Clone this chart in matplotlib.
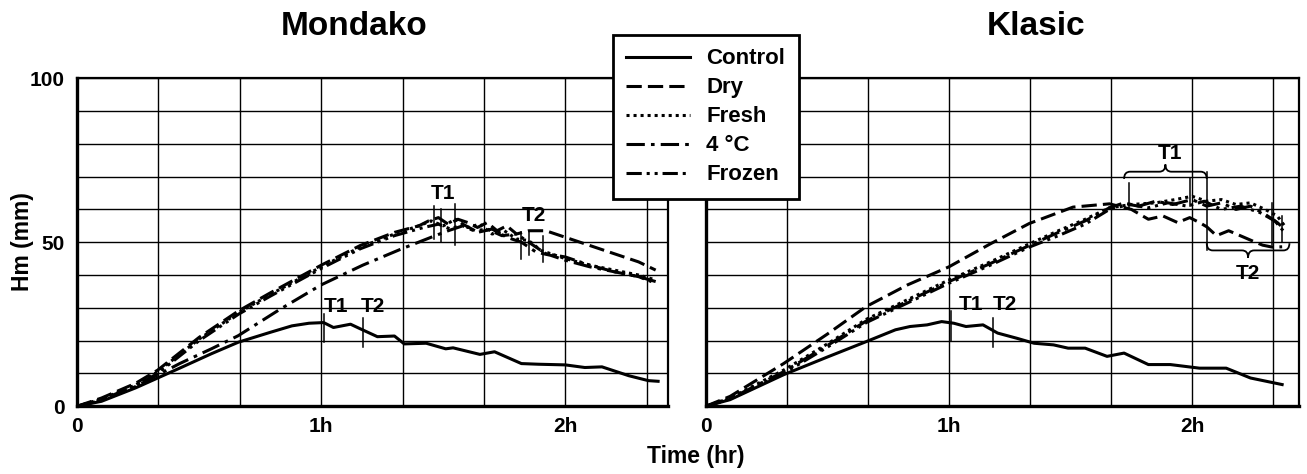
import matplotlib
matplotlib.use("Agg")
import matplotlib.pyplot as plt
import numpy as np
from matplotlib.path import Path
from matplotlib.patches import PathPatch

plt.rcParams['font.family'] = ['Liberation Sans', 'DejaVu Sans']
plt.rcParams['font.weight'] = 'bold'

series = ["Control", "Dry", "Fresh", "4 °C", "Frozen"]
styles = ["-", (0, (5, 2)), (0, (1, 1.3)), (0, (6, 2, 1.2, 2)), (0, (5, 1.6, 1, 1.6, 1, 1.6))]

# ---- Mondako (left) ----
m_ctrl_t = [0, 0.1, 0.24, 0.42, 0.55, 0.66, 0.79, 0.88, 0.95, 1.01, 1.05, 1.12, 1.16, 1.23, 1.30, 1.34,
            1.43, 1.51, 1.54, 1.65, 1.71, 1.82, 1.89, 2.00, 2.08, 2.15, 2.26, 2.34, 2.38]
m_ctrl_y = [0, 1.5, 5.6, 11.6, 16, 19.5, 22.5, 24.5, 25.3, 25.5, 24.0, 25.0, 23.6, 21.2, 21.4, 19.0,
            19.2, 17.5, 17.8, 15.8, 16.6, 13.0, 12.8, 12.6, 11.8, 12.0, 9.3, 7.8, 7.6]

m_dry_t = [0, 0.1, 0.24, 0.33, 0.5, 0.66, 0.79, 1.0, 1.16, 1.30, 1.40, 1.44, 1.48, 1.52, 1.56, 1.60, 1.64,
           1.68, 1.72, 1.76, 1.80, 1.85, 1.92, 2.0, 2.1, 2.2, 2.3, 2.37]
m_dry_y = [0, 2.5, 7, 11, 21, 29, 34.5, 43, 49, 53, 55, 56.5, 57.5, 55.5, 57, 56, 54.5,
           56, 53.5, 55, 52.5, 53.5, 53.5, 51.5, 49, 46.5, 44, 41.5]

m_fresh_t = [0, 0.1, 0.24, 0.33, 0.5, 0.66, 0.79, 1.0, 1.16, 1.30, 1.40, 1.45, 1.50, 1.55, 1.60, 1.65,
             1.70, 1.75, 1.80, 1.85, 1.90, 2.0, 2.1, 2.2, 2.3, 2.37]
m_fresh_y = [0, 2.2, 6.5, 10.5, 20.5, 28.5, 34, 42.5, 48.5, 52.5, 55, 56.5, 55, 57, 54.5, 55.5,
             52.5, 53.5, 51, 50.5, 47.5, 45, 43, 41.5, 40, 38.5]

m_4c_t = [0, 0.1, 0.24, 0.42, 0.55, 0.66, 0.83, 1.0, 1.17, 1.33, 1.45, 1.52, 1.58, 1.64, 1.70, 1.76,
          1.82, 1.88, 1.94, 2.0, 2.1, 2.2, 2.3, 2.37]
m_4c_y = [0, 1.8, 6, 13, 17.5, 21.5, 29.5, 37, 43, 48, 51.5, 53.5, 55, 53, 54, 51.5,
          50, 47, 46, 44.5, 42.5, 41, 39.5, 38]

m_frz_t = [0, 0.1, 0.24, 0.33, 0.5, 0.66, 0.79, 1.0, 1.16, 1.30, 1.42, 1.48, 1.53, 1.58, 1.63, 1.68,
           1.74, 1.80, 1.86, 1.92, 2.0, 2.1, 2.2, 2.3, 2.37]
m_frz_y = [0, 2, 6.2, 10, 20, 28, 33.5, 42, 48, 52, 54.5, 55.5, 54, 55.5, 53.5, 54,
           52, 52.5, 49.5, 46.5, 45.5, 43, 41, 39.5, 37.5]

# ---- Klasic (right) ----
k_ctrl_t = [0, 0.1, 0.32, 0.5, 0.66, 0.78, 0.84, 0.91, 0.97, 1.02, 1.07, 1.14, 1.2, 1.28, 1.35, 1.43,
            1.49, 1.56, 1.65, 1.72, 1.82, 1.91, 2.03, 2.14, 2.24, 2.37]
k_ctrl_y = [0, 2, 9.6, 15, 19.7, 23.3, 24.3, 24.8, 25.8, 25.3, 24.3, 24.8, 22.3, 20.7, 19.2, 18.7,
            17.7, 17.7, 15.2, 16.2, 12.7, 12.7, 11.6, 11.6, 8.6, 6.6]

k_dry_t = [0, 0.1, 0.32, 0.5, 0.66, 0.83, 1.0, 1.17, 1.33, 1.51, 1.66, 1.75, 1.82, 1.88, 1.94, 1.99,
           2.03, 2.06, 2.1, 2.15, 2.21, 2.26, 2.29, 2.33, 2.37]
k_dry_y = [0, 3, 13, 22, 30.4, 37, 42.5, 49.5, 55.7, 60.7, 61.7, 60, 57, 58, 56, 57.5,
           56, 54.7, 52, 53.5, 51.6, 50, 49.1, 48.5, 48.6]

k_fresh_t = [0, 0.1, 0.32, 0.5, 0.66, 0.83, 1.0, 1.17, 1.33, 1.45, 1.56, 1.66, 1.75, 1.85, 1.93, 2.0,
             2.06, 2.12, 2.18, 2.24, 2.3, 2.35, 2.38]
k_fresh_y = [0, 2.5, 11, 19, 26.5, 32.5, 38.5, 44, 49.5, 53.5, 57, 60.5, 61.5, 62, 63, 64,
             62.5, 63, 61.5, 62, 60, 58, 55]

k_4c_t = [0, 0.1, 0.32, 0.5, 0.66, 0.83, 1.0, 1.17, 1.33, 1.45, 1.56, 1.66, 1.72, 1.78, 1.85, 1.92,
          2.0, 2.06, 2.12, 2.18, 2.24, 2.3, 2.35, 2.38]
k_4c_y = [0, 2.3, 10.5, 18.5, 26, 32, 38, 43.5, 49, 53, 56.5, 60.5, 62, 61, 62.5, 61.5,
          63, 61, 62, 60, 61, 58.5, 56, 54]

k_frz_t = [0, 0.1, 0.32, 0.5, 0.66, 0.83, 1.0, 1.17, 1.33, 1.45, 1.56, 1.66, 1.74, 1.82, 1.90, 1.98,
           2.05, 2.12, 2.2, 2.28, 2.34, 2.38]
k_frz_y = [0, 2.2, 10, 18, 25.5, 31.5, 37.5, 43, 48.5, 52, 55.5, 60, 61.5, 60.5, 62, 61,
           62.5, 60, 61, 59, 56.5, 53]

# annotations: (text, x, y) and vertical marks (x, y0, y1)
m_labels = [("T1", 1.50, 65), ("T2", 1.87, 58), ("T1", 1.06, 30.5), ("T2", 1.21, 30.5)]
m_marks = [(1.46, 51, 61), (1.49, 50, 60), (1.55, 49, 61.5), (1.82, 45, 53), (1.85, 46, 53.5),
           (1.91, 44, 52), (1.01, 19.5, 28), (1.17, 18, 27)]
k_labels = [("T1", 1.91, 77), ("T2", 2.23, 40.5), ("T1", 1.09, 31), ("T2", 1.23, 31)]
k_marks = [(1.01, 20, 29), (1.18, 18, 27), (1.74, 60, 68), (1.99, 61, 69.5), (2.33, 49, 62),
           (2.37, 50, 58), (2.06, 47.5, 71.5)]
# braces: (x0, x1, y, direction)
k_braces = [(1.72, 2.06, 71.5, 1), (2.06, 2.40, 47.5, -1)]

panels = [
    ("Mondako", [(m_ctrl_t, m_ctrl_y), (m_dry_t, m_dry_y), (m_fresh_t, m_fresh_y),
                 (m_4c_t, m_4c_y), (m_frz_t, m_frz_y)], m_labels, m_marks, [], 2.42),
    ("Klasic", [(k_ctrl_t, k_ctrl_y), (k_dry_t, k_dry_y), (k_fresh_t, k_fresh_y),
                (k_4c_t, k_4c_y), (k_frz_t, k_frz_y)], k_labels, k_marks, k_braces, 2.44),
]


def draw_brace(ax, x0, x1, y, d):
    xm = (x0 + x1) / 2
    r = 0.025
    h = 2.2
    verts = [(x0, y - d * h), (x0, y), (x0 + r, y),
             (xm - r, y), (xm, y), (xm, y + d * h),
             (xm, y), (xm + r, y),
             (x1 - r, y), (x1, y), (x1, y - d * h)]
    codes = [Path.MOVETO, Path.CURVE3, Path.CURVE3,
             Path.LINETO, Path.CURVE3, Path.CURVE3,
             Path.CURVE3, Path.CURVE3,
             Path.LINETO, Path.CURVE3, Path.CURVE3]
    ax.add_patch(PathPatch(Path(verts, codes), fill=False, lw=1.3, color='black'))


fig = plt.figure(figsize=(13.07, 4.74), dpi=100)
positions = [[0.059, 0.143, 0.452, 0.692], [0.540, 0.143, 0.454, 0.692]]
title_x = [0.271, 0.793]

axes = []
for i, (name, data, labels, marks, braces, xmax) in enumerate(panels):
    ax = fig.add_axes(positions[i])
    for (t, y), ls, lab in zip(data, styles, series):
        ax.plot(t, y, color='black', lw=2.2, linestyle=ls, label=lab)
    for txt, x, y in labels:
        ax.text(x, y, txt, ha='center', va='center', fontsize=15, fontweight='bold')
    for x, y0, y1 in marks:
        ax.plot([x, x], [y0, y1], color='black', lw=1.1)
    for x0, x1, y, d in braces:
        draw_brace(ax, x0, x1, y, d)
    ax.set_xlim(0, xmax)
    ax.set_ylim(0, 100)
    ax.set_xticks([0, 1, 2])
    ax.set_xticklabels(['0', '1h', '2h'])
    ax.set_xticks(np.arange(1, 8) / 3, minor=True)
    ax.set_yticks([0, 50, 100])
    ax.set_yticks(np.arange(10, 100, 10), minor=True)
    ax.grid(True, which='both', color='black', lw=1.0)
    ax.tick_params(which='both', length=0, labelsize=15)
    ax.tick_params(axis='x', pad=8)
    ax.tick_params(axis='y', pad=9)
    if i == 1:
        ax.set_yticklabels([])
    for side in ['left', 'bottom']:
        ax.spines[side].set_linewidth(2.4)
    for side in ['top', 'right']:
        ax.spines[side].set_linewidth(1.6)
    fig.text(title_x[i], 0.944, name, ha='center', va='center', fontsize=24, fontweight='bold')
    axes.append(ax)

fig.text(0.017, 0.49, "Hm (mm)", rotation=90, ha='center', va='center', fontsize=16.5, fontweight='bold')
fig.text(0.532, 0.036, "Time (hr)", ha='center', va='center', fontsize=16.5, fontweight='bold')

leg = fig.legend(*axes[0].get_legend_handles_labels(), loc='upper left',
                 bbox_to_anchor=(0.469, 0.926), borderaxespad=0, fancybox=False,
                 framealpha=1, edgecolor='black', fontsize=16,
                 handlelength=2.85, handletextpad=0.75, labelspacing=0.36, borderpad=0.6)
leg.get_frame().set_linewidth(2)

fig.savefig("out.png", dpi=100)
